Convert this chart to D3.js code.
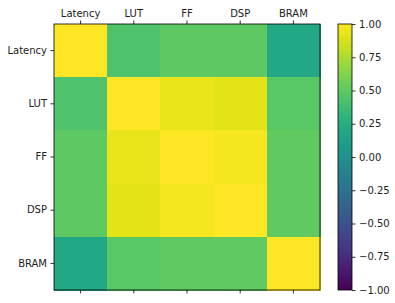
<!DOCTYPE html>
<html><head><meta charset="utf-8">
<script src="https://cdn.jsdelivr.net/npm/d3@7"></script>
<style>body{margin:0;background:#fff}svg{display:block}text{font-family:"DejaVu Sans",sans-serif;font-size:10px;fill:#222}</style>
</head><body>
<script>
const categories = ["Latency","LUT","FF","DSP","BRAM"];
const corr = [
  [1.00, 0.44, 0.50, 0.50, 0.20],
  [0.44, 1.00, 0.93, 0.91, 0.48],
  [0.50, 0.93, 1.00, 0.97, 0.51],
  [0.50, 0.91, 0.97, 1.00, 0.51],
  [0.20, 0.48, 0.51, 0.51, 1.00]
];
const colorTicks = [-1, -0.75, -0.5, -0.25, 0, 0.25, 0.5, 0.75, 1];

const W=395,H=303;
const svg=d3.select("body").append("svg").attr("width",W).attr("height",H);
const L=54,R=320,T=24,B=290;
const x=d3.scaleBand().domain(categories).range([L,R]).padding(0);
const y=d3.scaleBand().domain(categories).range([T,B]).padding(0);
const color=d3.scaleSequential(d3.interpolateViridis).domain([-1,1]);

const cells=[];
corr.forEach((row,i)=>row.forEach((v,j)=>cells.push({r:categories[i],c:categories[j],v})));
svg.append("g").selectAll("rect").data(cells).join("rect")
  .attr("x",d=>x(d.c)).attr("y",d=>y(d.r))
  .attr("width",x.bandwidth()+0.5).attr("height",y.bandwidth()+0.5)
  .attr("fill",d=>color(d.v)).attr("shape-rendering","crispEdges");

function style(g){g.select(".domain").remove();g.selectAll(".tick line").attr("stroke","#000").attr("stroke-width",0.8);g.selectAll(".tick text").attr("fill","#222").style("font-family","DejaVu Sans").style("font-size","10px");}
svg.append("g").attr("transform",`translate(0,${T})`).call(d3.axisTop(x).tickSize(3.5).tickPadding(3.5)).call(style);
svg.append("g").attr("transform",`translate(0,${B})`).call(d3.axisBottom(x).tickSize(3.5).tickFormat("")).call(style);
svg.append("g").attr("transform",`translate(${L},0)`).call(d3.axisLeft(y).tickSize(3.5).tickPadding(3.5)).call(style);
svg.append("rect").attr("x",L).attr("y",T).attr("width",R-L).attr("height",B-T).attr("fill","none").attr("stroke","#000").attr("stroke-width",0.8);

// colorbar
const cbL=338,cbR=352;
const cy=d3.scaleLinear().domain([-1,1]).range([B,T]);
const defs=svg.append("defs");
const grad=defs.append("linearGradient").attr("id","cb").attr("x1","0").attr("y1","1").attr("x2","0").attr("y2","0");
d3.range(0,1.0001,0.05).forEach(t=>grad.append("stop").attr("offset",t).attr("stop-color",color(-1+2*t)));
svg.append("rect").attr("x",cbL).attr("y",T).attr("width",cbR-cbL).attr("height",B-T).attr("fill","url(#cb)");
svg.append("rect").attr("x",cbL).attr("y",T).attr("width",cbR-cbL).attr("height",B-T).attr("fill","none").attr("stroke","#000").attr("stroke-width",0.8);
svg.append("g").attr("transform",`translate(${cbR},0)`).call(d3.axisRight(cy).tickValues(colorTicks).tickSize(3.5).tickPadding(3.5).tickFormat(d=>d3.format(".2f")(d).replace("-","\u2212"))).call(style);
</script>
</body></html>
